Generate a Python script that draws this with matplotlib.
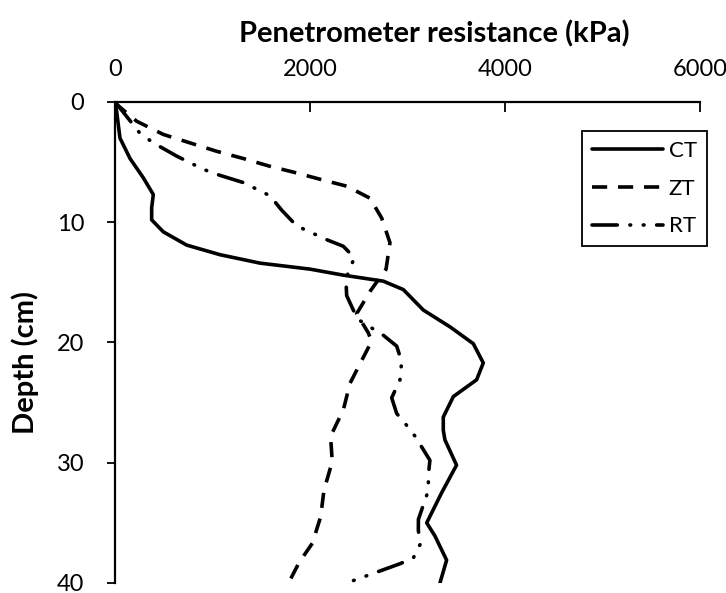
import matplotlib
matplotlib.use("Agg")
import matplotlib.pyplot as plt

plt.rcParams['font.family'] = ['Lato', 'DejaVu Sans']

# Глубина (см) и сопротивление пенетрометра (кПа)
ct_depth = [0, 0.8, 3.0, 4.7, 6.3, 7.7, 8.8, 9.8, 10.8, 11.9, 12.7, 13.4, 13.9, 14.4,
            14.9, 15.6, 17.3, 18.7, 20.1, 21.7, 23.1, 24.5, 26.2, 27.3, 28.1, 30.2,
            32.5, 35.0, 36.1, 38.1, 40.0]
ct_kpa = [0, 17, 51, 154, 290, 393, 376, 376, 496, 735, 1077, 1487, 2000, 2342,
          2752, 2957, 3162, 3436, 3675, 3777, 3709, 3470, 3367, 3367, 3384, 3503,
          3350, 3197, 3282, 3401, 3333]

zt_depth = [0, 0.2, 1.6, 2.7, 3.4, 4.1, 4.7, 5.35, 5.9, 6.5, 7.0, 8.0, 9.65, 11.7,
            13.9, 15.7, 17.6, 19.2, 19.9, 21.5, 23.4, 25.6, 27.8, 29.9, 32.3, 34.5,
            36.7, 38.3, 40.0]
zt_kpa = [0, 17, 222, 496, 769, 1043, 1316, 1590, 1863, 2137, 2376, 2615, 2735, 2820,
          2780, 2620, 2479, 2598, 2632, 2530, 2410, 2342, 2211, 2228, 2143, 2109,
          2024, 1888, 1780]

rt_depth = [0, 0.5, 2.6, 3.4, 4.5, 5.6, 6.1, 6.7, 7.8, 9.0, 10.3, 11.45, 12.0, 12.95,
            14.7, 16.1, 17.3, 18.1, 19.4, 20.3, 21.6, 23.1, 24.6, 25.9, 26.9, 27.8,
            29.8, 31.0, 32.3, 34.7, 35.6, 36.8, 37.9, 38.4, 39.1, 40.0]
rt_kpa = [0, 51, 256, 393, 633, 906, 1077, 1316, 1590, 1710, 1863, 2171, 2342, 2455,
          2368, 2376, 2444, 2496, 2752, 2889, 2940, 2923, 2838, 2889, 2992, 3078,
          3230, 3214, 3214, 3112, 3111, 3129, 3061, 2923, 2684, 2376]

fig = plt.figure(figsize=(7.26, 5.93), dpi=100)
ax = fig.add_axes([0.1584, 0.0169, 0.8058, 0.8111])

lw = 2.6
ax.plot(ct_kpa, ct_depth, color="black", lw=lw, solid_joinstyle="round",
        solid_capstyle="round", label="CT")
ax.plot(zt_kpa, zt_depth, color="black", lw=lw, dashes=(4.2, 3), label="ZT")
ax.plot(rt_kpa, rt_depth, color="black", lw=lw, dashes=(7, 3.5, 0.2, 3.5, 0.2, 3.5),
        dash_capstyle="round", label="RT")

ax.set_xlim(0, 6000)
ax.set_ylim(40, 0)
ax.set_xticks([0, 2000, 4000, 6000])
ax.set_yticks([0, 10, 20, 30, 40])
ax.xaxis.tick_top()
ax.xaxis.set_label_position("top")
ax.tick_params(axis="x", direction="in", length=7, width=1.3, labelsize=17, pad=16)
ax.tick_params(axis="y", direction="out", length=6, width=1.3, labelsize=17, pad=16)
for s in ["right", "bottom"]:
    ax.spines[s].set_visible(False)
for s in ["top", "left"]:
    ax.spines[s].set_linewidth(1.6)

ax.set_xlabel("Penetrometer resistance (kPa)", fontsize=21, fontweight="bold",
              va="baseline")
ax.xaxis.set_label_coords(0.545, 1.1247)
ax.set_ylabel("Depth (cm)", fontsize=21, fontweight="bold", va="center")
ax.yaxis.set_label_coords(-0.154, 0.459)

leg = ax.legend(loc="upper right", bbox_to_anchor=(1.012, 0.940), borderaxespad=0,
                fontsize=16, handlelength=3.2, handletextpad=0.25, borderpad=0.45,
                labelspacing=0.8, fancybox=False, edgecolor="black", framealpha=1)
leg.get_frame().set_linewidth(1.3)

fig.savefig("out.png", dpi=100)
